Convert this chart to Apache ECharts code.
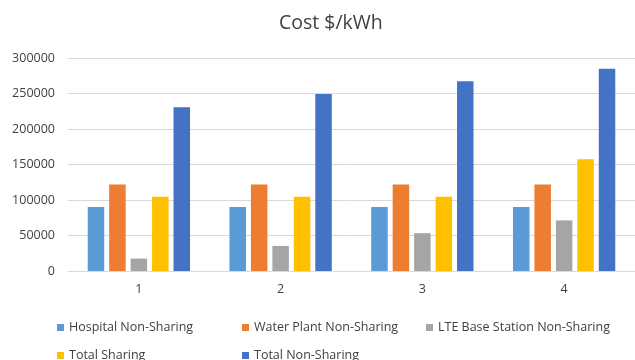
<!DOCTYPE html>
<html>
<head>
<meta charset="utf-8">
<script src="https://cdn.jsdelivr.net/npm/echarts@6/dist/echarts.min.js"></script>
<style>html,body{margin:0;padding:0;background:#fff;}#c{width:635px;height:360px;}</style>
</head>
<body>
<div id="c"></div>
<script>
const categories = ['1', '2', '3', '4'];
const hospital = [90000, 90000, 90000, 90000];
const waterPlant = [122000, 122000, 122000, 122000];
const lteBase = [17500, 35300, 53300, 71300];
const totalSharing = [104600, 104600, 104600, 157300];
const totalNonSharing = [230500, 249200, 267100, 285000];
const yTicks = [0, 50000, 100000, 150000, 200000, 250000, 300000];

const names = ['Hospital Non-Sharing', 'Water Plant Non-Sharing', 'LTE Base Station Non-Sharing', 'Total Sharing', 'Total Non-Sharing'];
const colors = ['#5B9BD5', '#ED7D31', '#A5A5A5', '#FFC000', '#4472C4'];
const values = [hospital, waterPlant, lteBase, totalSharing, totalNonSharing];

const font = "'Open Sans', sans-serif";
const legendPos = [[52, 316], [237, 316], [421, 316], [52, 344], [237, 344]];
const legends = names.map((n, i) => ({
  orient: 'horizontal', itemWidth: 7, itemHeight: 7, itemGap: 10,
  icon: 'rect', selectedMode: false,
  left: legendPos[i][0], top: legendPos[i][1], data: [n],
  textStyle: { fontFamily: font, fontSize: 12.5, color: '#404040' }
}));
const chart = echarts.init(document.getElementById('c'));
chart.setOption({
  animation: false,
  color: colors,
  title: {
    text: 'Cost $/kWh', left: 274, top: 8,
    textStyle: { fontFamily: font, fontSize: 19.5, fontWeight: 'normal', color: '#404040' }
  },
  legend: legends,
  grid: { left: 68, right: 0, top: 58, bottom: 89 },
  xAxis: {
    type: 'category', data: categories,
    axisLine: { lineStyle: { color: '#d9d9d9' } },
    axisTick: { show: false },
    axisLabel: { fontFamily: font, fontSize: 12.5, color: '#404040', margin: 12 }
  },
  yAxis: {
    type: 'value', min: yTicks[0], max: yTicks[yTicks.length - 1], interval: 50000,
    axisLine: { show: false }, axisTick: { show: false },
    splitLine: { lineStyle: { color: '#d9d9d9' } },
    axisLabel: { fontFamily: font, fontSize: 12.5, color: '#404040', margin: 13, formatter: v => String(v) }
  },
  series: names.map((n, i) => ({
    name: n, type: 'bar', data: values[i],
    barWidth: 16.5, barGap: '30%',
    itemStyle: { color: colors[i] }
  }))
});
</script>
</body>
</html>
